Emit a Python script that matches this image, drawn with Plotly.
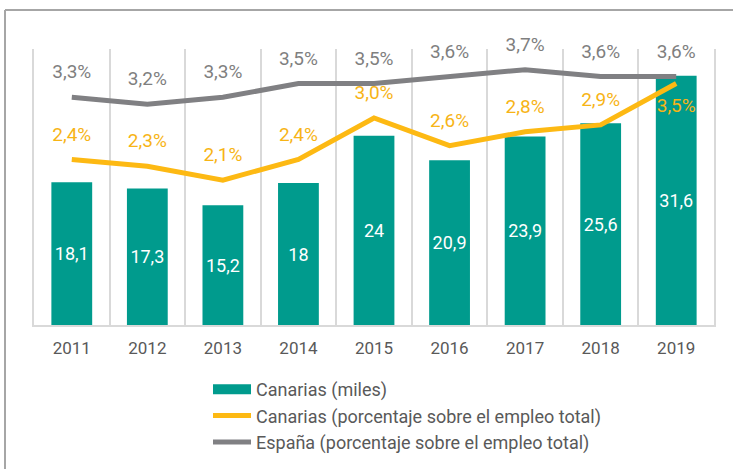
import plotly.graph_objects as go

years = ["2011", "2012", "2013", "2014", "2015", "2016", "2017", "2018", "2019"]
canarias_miles = [18.1, 17.3, 15.2, 18.0, 24.0, 20.9, 23.9, 25.6, 31.6]
canarias_pct = [2.4, 2.3, 2.1, 2.4, 3.0, 2.6, 2.8, 2.9, 3.5]
espana_pct = [3.3, 3.2, 3.3, 3.5, 3.5, 3.6, 3.7, 3.6, 3.6]

name_bar = "Canarias (miles)"
name_can = "Canarias (porcentaje sobre el empleo total)"
name_esp = "España (porcentaje sobre el empleo total)"

TEAL = "#009B8D"
ORANGE = "#FDB913"
GRAY = "#808083"
FONT = "Roboto"


def fmt_num(v):
    s = ("%.1f" % v).replace(".", ",")
    if s.endswith(",0"):
        s = s[:-2]
    return s


def fmt_pct(v):
    return ("%.1f" % v).replace(".", ",") + "%"


fig = go.Figure()

fig.add_trace(go.Bar(
    x=years, y=canarias_miles, name=name_bar, showlegend=False,
    marker=dict(color=TEAL, line=dict(width=0)),
    text=[fmt_num(v) for v in canarias_miles],
    textposition="inside", insidetextanchor="middle",
    textfont=dict(color="white", size=18, family=FONT),
    textangle=0, yaxis="y",
))

# legend entry for the bars (wide rectangle like in the original)
fig.add_trace(go.Scatter(
    x=years, y=[None] * len(years), mode="lines", name=name_bar,
    line=dict(color=TEAL, width=12), legendgroup="a", hoverinfo="skip",
))

can_pos = ["top center"] * (len(years) - 1) + ["bottom center"]
fig.add_trace(go.Scatter(
    x=years, y=canarias_pct, name=name_can, mode="lines+markers+text",
    line=dict(color=ORANGE, width=5),
    marker=dict(size=21, color="rgba(0,0,0,0)"),
    text=[fmt_pct(v) for v in canarias_pct], textposition=can_pos,
    textfont=dict(color="#F7B416", size=19, family=FONT),
    yaxis="y2", legendgroup="b", cliponaxis=False,
))

fig.add_trace(go.Scatter(
    x=years, y=espana_pct, name=name_esp, mode="lines+markers+text",
    line=dict(color=GRAY, width=5),
    marker=dict(size=21, color="rgba(0,0,0,0)"),
    text=[fmt_pct(v) for v in espana_pct], textposition="top center",
    textfont=dict(color="#7F7F7F", size=19, family=FONT),
    yaxis="y2", legendgroup="c", cliponaxis=False,
))

L, R, T, B = 34, 19, 49, 144
W, H = 733, 469
pw = W - L - R
ph = H - T - B


def px_x(p):
    return (p - L) / pw


def px_y(p):
    return (H - B - p) / ph


fig.update_layout(
    width=W, height=H,
    margin=dict(l=L, r=R, t=T, b=B, pad=0, autoexpand=False),
    paper_bgcolor="white", plot_bgcolor="white",
    font=dict(family=FONT, color="#595959"),
    bargap=0.46,
    xaxis=dict(
        type="category", tickson="boundaries", showgrid=True,
        range=[-0.5, len(years) - 0.5], autorange=False,
        gridcolor="#D9D9D9", gridwidth=2, ticks="",
        showline=True, linecolor="#D9D9D9", linewidth=2,
        tickfont=dict(size=17, color="#595959", family=FONT),
        ticklabelstandoff=7, fixedrange=True, automargin=False,
    ),
    yaxis=dict(
        range=[0, 35], showgrid=False, zeroline=False, showticklabels=False,
        showline=True, linecolor="#D9D9D9", linewidth=2, ticks="",
        automargin=False,
    ),
    yaxis2=dict(
        range=[0, 4], overlaying="y", side="right", showgrid=False,
        zeroline=False, showticklabels=False, automargin=False,
        showline=True, linecolor="#D9D9D9", linewidth=2, ticks="",
    ),
    legend=dict(
        orientation="v", x=px_x(208), xanchor="left",
        y=px_y(371), yanchor="top", itemwidth=38,
        font=dict(size=18, color="#595959", family=FONT),
        tracegroupgap=0, bgcolor="rgba(0,0,0,0)",
    ),
    shapes=[
        dict(type="line", xref="paper", yref="paper",
             x0=px_x(5), x1=px_x(W + 2), y0=px_y(10), y1=px_y(10),
             line=dict(color="#A6A6A6", width=2)),
        dict(type="line", xref="paper", yref="paper",
             x0=px_x(5), x1=px_x(5), y0=px_y(10), y1=px_y(H + 2),
             line=dict(color="#A6A6A6", width=2)),
    ],
)

fig.write_html(
    "out.html",
    config={"displayModeBar": False},
    post_script="document.body.style.margin='0';document.body.style.overflow='hidden';",
)
